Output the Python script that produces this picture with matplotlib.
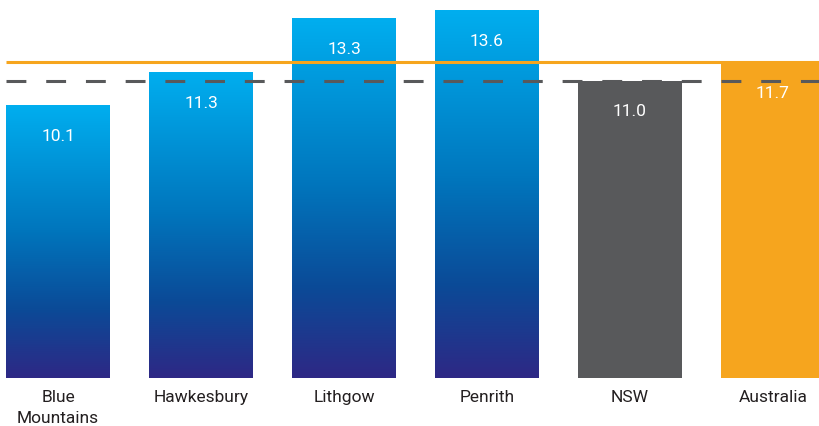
import numpy as np
import matplotlib
matplotlib.use("Agg")
import matplotlib.pyplot as plt
from matplotlib.colors import LinearSegmentedColormap

# Regions and their values
regions = ["Blue\nMountains", "Hawkesbury", "Lithgow", "Penrith", "NSW", "Australia"]
values = [10.1, 11.3, 13.3, 13.6, 11.0, 11.7]
nsw_value = 11.0
australia_value = 11.7

plt.rcParams["font.family"] = ["Roboto", "DejaVu Sans"]

blue_grad = LinearSegmentedColormap.from_list(
    "blue_grad",
    [(0.0, "#2e2885"), (0.25, "#0b4a97"), (0.55, "#0077be"), (1.0, "#00aeef")],
)

fig = plt.figure(figsize=(8.2, 4.27), dpi=100)
ax = fig.add_axes([0, 1 - 379 / 427, 1, 379 / 427])

x = np.arange(len(regions))
width = 0.727
colors = ["none", "none", "none", "none", "#58595b", "#f6a51e"]
bars = ax.bar(x, values, width=width, color=colors, zorder=2)

# Vertical gradient for the four local areas
grad = np.linspace(0, 1, 256).reshape(-1, 1)
for b in bars[:4]:
    x0 = b.get_x()
    ax.imshow(grad, cmap=blue_grad, origin="lower", aspect="auto",
              extent=(x0, x0 + b.get_width(), 0, b.get_height()), zorder=2)

ax.set_xlim(-0.406, 5.329)
ax.set_ylim(0, 14.04)

# Reference lines for Australia and NSW
x_start = bars[0].get_x()
ax.plot([x_start, 5.6], [australia_value] * 2, color="#f6a51e", lw=2.2,
        zorder=3, solid_capstyle="butt")
ax.plot([x_start, 5.6], [nsw_value] * 2, color="#58595b", lw=2.2,
        dashes=(6.5, 6.5), zorder=3)

for xi, v in zip(x, values):
    ax.annotate(f"{v:.1f}", (xi, v), xytext=(0, -21.5), textcoords="offset points",
                ha="center", va="center", color="white", fontsize=12.5, zorder=4)

ax.set_xticks(x)
ax.set_xticklabels(regions, fontsize=12.5, color="#231f20", linespacing=1.45)
ax.tick_params(axis="x", length=0, pad=8)
ax.set_yticks([])
for s in ax.spines.values():
    s.set_visible(False)

fig.savefig("out.png", dpi=100)
